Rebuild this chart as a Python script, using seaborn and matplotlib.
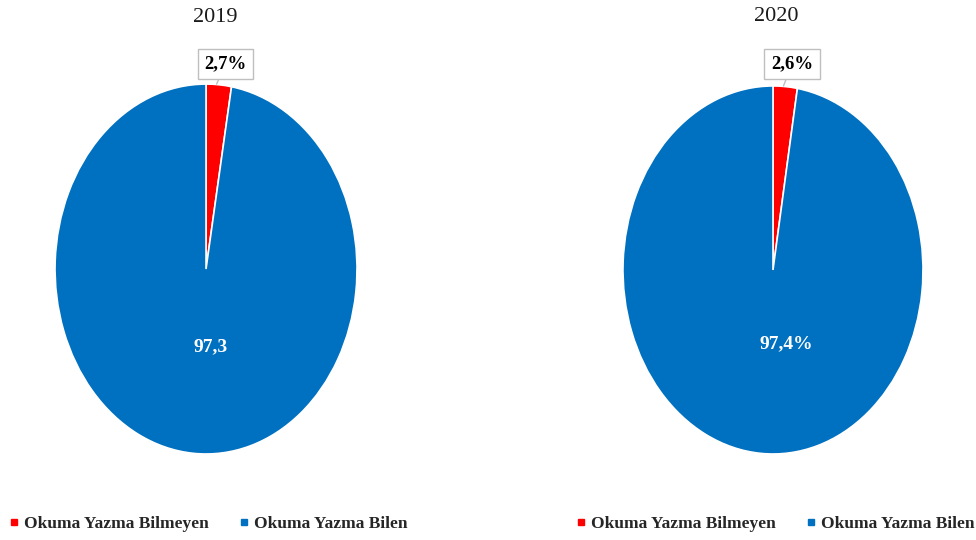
import matplotlib
matplotlib.use("Agg")
import matplotlib.pyplot as plt
from matplotlib.lines import Line2D
import seaborn as sns

# data
years = ["2019", "2020"]
categories = ["Okuma Yazma Bilmeyen", "Okuma Yazma Bilen"]
values_2019 = [2.7, 97.3]
values_2020 = [2.6, 97.4]
small_labels = ["2,7%", "2,6%"]
big_labels = ["97,3", "97,4%"]
colors = ["#FF0000", "#0070C0"]

sns.set_theme(style="white")
plt.rcParams["font.family"] = ["Liberation Serif", "DejaVu Serif"]

fig = plt.figure(figsize=(9.76, 5.4), dpi=100)

# axes placed so the pies come out as tall ellipses like the reference
ax_rects = [[0.0564, 0.1593, 0.3094, 0.685], [0.6383, 0.1593, 0.3074, 0.6815]]
title_pos = [(0.53, 1.18), (0.51, 1.19)]
small_pos = [(0.13, 1.11), (0.127, 1.12)]
big_pos = [(0.03, -0.42), (0.087, -0.40)]

for i, vals in enumerate([values_2019, values_2020]):
    ax = fig.add_axes(ax_rects[i])
    ax.pie(vals, colors=colors, startangle=90, counterclock=False,
           wedgeprops=dict(edgecolor="white", linewidth=1.2))
    ax.set_aspect("auto")
    ax.set_xlim(-1, 1)
    ax.set_ylim(-1, 1)
    ax.axis("off")

    ax.text(title_pos[i][0], title_pos[i][1], years[i], transform=ax.transAxes,
            ha="center", va="center", fontsize=16, color="#1a1a1a")

    ax.annotate(small_labels[i], xy=(0.07, 1.0), xytext=small_pos[i],
                ha="center", va="center", fontsize=13.5, fontweight="bold",
                color="black",
                bbox=dict(boxstyle="square,pad=0.35", fc="white", ec="#BFBFBF", lw=1),
                arrowprops=dict(arrowstyle="-", color="#BFBFBF", lw=1,
                                shrinkA=0, shrinkB=0))
    ax.text(big_pos[i][0], big_pos[i][1], big_labels[i], ha="center", va="center",
            fontsize=14, fontweight="bold", color="white")

# legends under each pie
handles = [Line2D([], [], marker="s", linestyle="none", markersize=5,
                  markerfacecolor=c, markeredgecolor=c) for c in colors]
for x0 in [-0.007, 0.574]:
    fig.legend(handles, categories, loc="center left", bbox_to_anchor=(x0, 0.03),
               ncol=2, frameon=False, handlelength=0.6, handletextpad=0.3,
               columnspacing=1.7, prop=dict(family="Liberation Serif",
                                            weight="bold", size=12.5))

fig.savefig("out.png", dpi=100, facecolor="white")
